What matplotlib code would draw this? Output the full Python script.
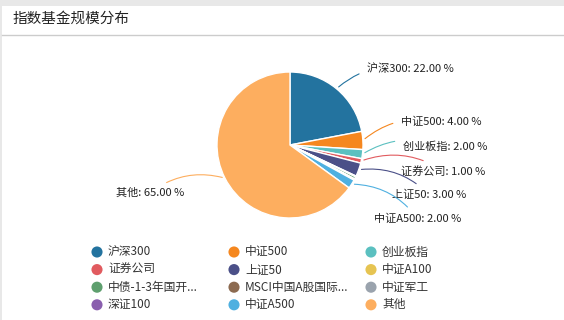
import numpy as np
import matplotlib.pyplot as plt
from matplotlib.patches import Rectangle

plt.rcParams['font.family'] = ['Noto Sans CJK SC', 'DejaVu Sans']

names = ['沪深300', '中证500', '创业板指', '证券公司', '上证50', '中证A100',
         '中债-1-3年国开...', 'MSCI中国A股国际...', '中证军工', '深证100',
         '中证A500', '其他']
shares = [22.0, 4.0, 2.0, 1.0, 3.0, 0.2, 0.5, 0.1, 0.1, 0.1, 2.0, 65.0]
colors = ['#23739f', '#f5871f', '#5bc0c0', '#e15b5f', '#4b5088', '#e6c452',
          '#5e9f6e', '#8c6a50', '#9aa3ad', '#8a5fae', '#4fb0e0', '#fdae5f']

# which slices get an outside label, and where the label starts (figure px from top-left)
label_pos = {
    '沪深300': (367, 69),
    '中证500': (401, 122),
    '创业板指': (403, 147),
    '证券公司': (401, 171),
    '上证50': (392, 195),
    '中证A500': (374, 219),
    '其他': (184, 193),
}

W, H = 564, 320
fig = plt.figure(figsize=(W / 100, H / 100), dpi=100)
fig.patch.set_facecolor('#e8e8e8')

# background card + title
bg = fig.add_axes([0, 0, 1, 1])
bg.set_xlim(0, W)
bg.set_ylim(H, 0)
bg.axis('off')
bg.add_patch(Rectangle((2, 6), W, H, facecolor='white', edgecolor='none'))
bg.plot([2, W], [34.5, 34.5], color='#cccccc', lw=1)
bg.text(13, 19, '指数基金规模分布', fontsize=10.5, va='center', ha='left', color='#222222')

# legend (3 columns)
for i, (n, c) in enumerate(zip(names, colors)):
    col, row = i % 3, i // 3
    x0 = 97 + col * 137
    y0 = 252 + row * 17.6
    bg.scatter([x0], [y0], s=64, color=c, edgecolor='none')
    bg.text(x0 + 11, y0, n, fontsize=8.5, va='center', ha='left', color='#333333')

# pie
cx, cy, r = 290, 145, 73
ax = fig.add_axes([(cx - r) / W, (H - cy - r) / H, 2 * r / W, 2 * r / H])
wedges, _ = ax.pie(shares, colors=colors, startangle=90, counterclock=False,
                   radius=1, wedgeprops=dict(edgecolor='white', linewidth=1))
ax.set_xlim(-1, 1)
ax.set_ylim(-1, 1)
ax.set_aspect('equal')
ax.axis('off')

for w, n, s in zip(wedges, names, shares):
    if n not in label_pos:
        continue
    ang = np.deg2rad((w.theta1 + w.theta2) / 2)
    px, py = np.cos(ang), np.sin(ang)
    tx, ty = label_pos[n]
    right = tx > cx
    ha = 'left' if right else 'right'
    rad = 0.25 if right else -0.25
    ax.annotate(f'{n}: {s:.2f} %', xy=(px, py),
                xytext=(tx, H - ty), textcoords='figure pixels',
                fontsize=8, ha=ha, va='center', color='#222222',
                annotation_clip=False,
                arrowprops=dict(arrowstyle='-', color=w.get_facecolor(), lw=0.8,
                                shrinkA=4, shrinkB=2,
                                connectionstyle=f'arc3,rad={rad}'))

fig.savefig('out.png', dpi=100)
